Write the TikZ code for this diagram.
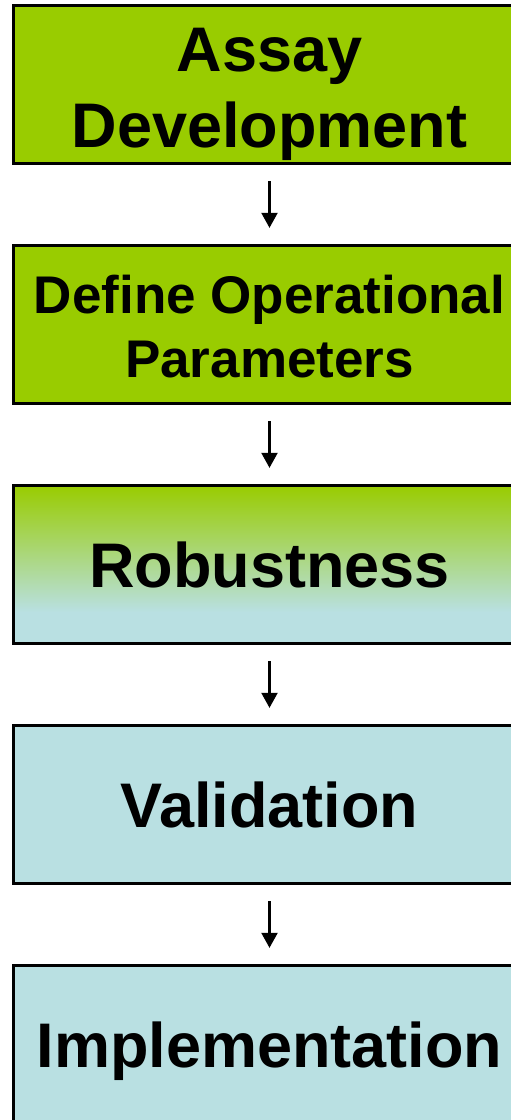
\documentclass[tikz,border=0pt]{standalone}
\usepackage{fontspec}
\setmainfont{Liberation Sans}
\usetikzlibrary{arrows.meta}
\definecolor{stagegreen}{RGB}{153,204,0}
\definecolor{stageblue}{RGB}{185,224,226}
% green at the top fading to blue over the upper four fifths
\pgfdeclareverticalshading{greentoblue}{100bp}{color(0bp)=(stageblue); color(35bp)=(stageblue); color(75bp)=(stagegreen); color(100bp)=(stagegreen)}

\begin{document}
\begin{tikzpicture}[x=1pt,y=-1pt,
  stage/.style={draw=black, line width=2.8pt, minimum width=512.5pt, minimum height=158.5pt,
    inner sep=0pt, align=center, font=\fontsize{63}{76}\selectfont\bfseries},
  onerow/.style={stage, text height=46pt, text depth=0pt},
  tworow/.style={stage, text height=128pt, text depth=3pt},
  tworowsmall/.style={stage, font=\fontsize{53}{64}\selectfont\bfseries, text height=110pt, text depth=5pt},
  flow/.style={-{Triangle[width=16pt,length=15pt]}, line width=2.2pt, shorten <=16pt, shorten >=16pt}]
\useasboundingbox (0,0) rectangle (511,1120);
\clip (0,0) rectangle (511,1120);

\node[tworow, fill=stagegreen] (dev) at (269.5,84.5) {Assay\\Development};
\node[tworowsmall, fill=stagegreen] (param) at (269.5,324.5) {Define Operational\\Parameters};
\node[onerow, shading=greentoblue] (robust) at (269.5,564.5) {Robustness};
\node[onerow, fill=stageblue] (valid) at (269.5,804.5) {Validation};
\node[onerow, fill=stageblue] (impl) at (269.5,1044.5) {Implementation};

\draw[flow] (dev) -- (param);
\draw[flow] (param) -- (robust);
\draw[flow] (robust) -- (valid);
\draw[flow] (valid) -- (impl);
\end{tikzpicture}
\end{document}
